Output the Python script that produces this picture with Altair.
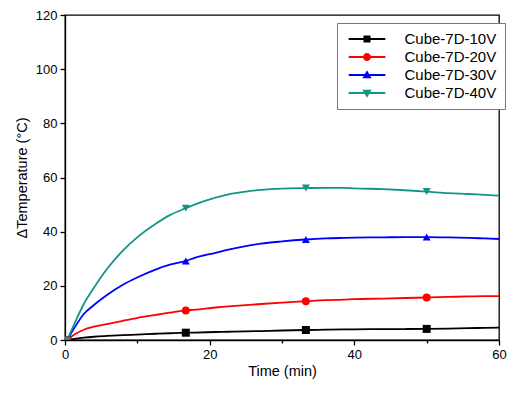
import altair as alt
import pandas as pd

series = ["Cube-7D-10V", "Cube-7D-20V", "Cube-7D-30V", "Cube-7D-40V"]
colors = ["#000000", "#FF0000", "#0000FF", "#129488"]
shapes = ["square", "circle", "triangle-up", "triangle-down"]

time_min = [0.3, 1.3, 2.6, 4, 5.8, 8, 9.9, 12.6, 14.5, 16.7, 18, 20.8, 22.6, 25,
            27.1, 30, 33.3, 36, 38.5, 40, 44, 47, 50, 53, 55.8, 58, 60]
v10 = [0, 0.4, 0.85, 1.2, 1.5, 1.8, 2.0, 2.3, 2.5, 2.7, 2.75, 2.95, 3.05, 3.2,
       3.3, 3.5, 3.7, 3.8, 3.9, 3.95, 4.0, 4.05, 4.1, 4.2, 4.35, 4.5, 4.6]
v20 = [0, 2.0, 3.8, 4.9, 5.9, 7.1, 8.1, 9.3, 10.1, 10.9, 11.2, 12.0, 12.4, 12.9,
       13.3, 13.8, 14.3, 14.7, 14.9, 15.1, 15.3, 15.5, 15.7, 15.9, 16.1, 16.2, 16.2]
v30 = [0, 4.5, 9.6, 12.9, 16.6, 20.4, 23.0, 26.1, 27.8, 29.2, 30.4, 32.2, 33.4, 34.7,
       35.6, 36.4, 37.1, 37.5, 37.7, 37.8, 37.9, 38.0, 38.0, 37.9, 37.7, 37.5, 37.3]
v40 = [0, 6.0, 13.3, 19.3, 26.2, 33.0, 37.7, 43.0, 46.1, 48.7, 50.1, 52.6, 53.8, 54.8,
       55.4, 55.9, 56.1, 56.2, 56.2, 56.0, 55.7, 55.3, 54.8, 54.2, 53.9, 53.6, 53.3]
marker_times = [0.3, 16.7, 33.3, 50]

# legend symbols: line segment + marker, custom paths (1 unit = 8 px at symbolSize 256)
LINE = "M-2.29,-0.11H2.29V0.11H-2.29Z "
legend_paths = [
    LINE + "M-0.44,-0.44H0.44V0.44H-0.44Z",
    LINE + "M-0.5,0A0.5,0.5 0 1,1 0.5,0A0.5,0.5 0 1,1 -0.5,0Z",
    LINE + "M0,-0.6L0.58,0.42L-0.58,0.42Z",
    LINE + "M-0.58,-0.42L0.58,-0.42L0,0.6Z",
]

rows = []
for name, vals in zip(series, [v10, v20, v30, v40]):
    for t, v in zip(time_min, vals):
        rows.append({"series": name, "time": t, "value": v, "marker": t in marker_times})
df = pd.DataFrame(rows)

FONT = "Liberation Sans"

x_enc = alt.X(
    "time:Q",
    scale=alt.Scale(domain=[0, 60], nice=False, zero=False),
    axis=alt.Axis(
        title="Time (min)",
        values=[0, 10, 20, 30, 40, 50, 60],
        labelExpr="datum.value % 20 == 0 ? datum.label : ''",
        tickSize={"condition": {"test": "datum.value % 20 != 0", "value": 3}, "value": 5},
        grid=False, labelFlush=False, labelOverlap=False,
        labelPadding=3, titlePadding=3,
    ),
)
y_enc = alt.Y(
    "value:Q",
    scale=alt.Scale(domain=[0, 120], nice=False),
    axis=alt.Axis(
        title="ΔTemperature (°C)",
        values=list(range(0, 121, 10)),
        labelExpr="datum.value % 20 == 0 ? datum.label : ''",
        tickSize={"condition": {"test": "datum.value % 20 != 0", "value": 3}, "value": 5},
        grid=False, labelFlush=False, labelOverlap=False,
        labelPadding=3, titlePadding=6,
    ),
)

color_nolegend = alt.Color("series:N", scale=alt.Scale(domain=series, range=colors), legend=None)

lines = alt.Chart(df).mark_line(strokeWidth=1.8, clip=True, interpolate="monotone").encode(
    x=x_enc, y=y_enc, color=color_nolegend, detail="series:N"
)

points = alt.Chart(df).transform_filter("datum.marker").mark_point(
    filled=True, opacity=1, size=64, clip=True
).encode(
    x="time:Q", y="value:Q",
    color=color_nolegend,
    shape=alt.Shape("series:N", scale=alt.Scale(domain=series, range=shapes), legend=None),
)

legend_layer = alt.Chart(df).transform_filter("false").mark_point(
    filled=True, opacity=1
).encode(
    x="time:Q", y="value:Q",
    color=alt.Color("series:N", scale=alt.Scale(domain=series, range=colors),
                    legend=alt.Legend(title=None)),
    shape=alt.Shape(
        "series:N",
        scale=alt.Scale(domain=series, range=legend_paths),
        legend=alt.Legend(
            title=None, orient="none", legendX=272, legendY=8,
            symbolSize=256, symbolStrokeWidth=0, symbolOpacity=1,
            symbolOffset=14, labelOffset=29.5,
            labelFont=FONT, labelFontSize=15, labelColor="black",
            rowPadding=2,
            strokeColor="#777777", fillColor="white",
            padding=8,
        ),
    ),
)

chart = alt.layer(lines, points, legend_layer).resolve_scale(
    color="independent", shape="independent"
).properties(
    width=434, height=325,
    autosize=alt.AutoSizeParams(type="none"),
    padding={"left": 57, "top": 7, "right": 8, "bottom": 41},
).configure_view(
    stroke="black", strokeWidth=1.3
).configure_axis(
    domainColor="black", domainWidth=1.3, tickColor="black", tickWidth=1.3,
    labelColor="black", labelFont=FONT, labelFontSize=13,
    titleColor="black", titleFont=FONT, titleFontSize=14.5, titleFontWeight="normal",
)

chart.save("out.html", embed_options={"renderer": "svg", "actions": False})
